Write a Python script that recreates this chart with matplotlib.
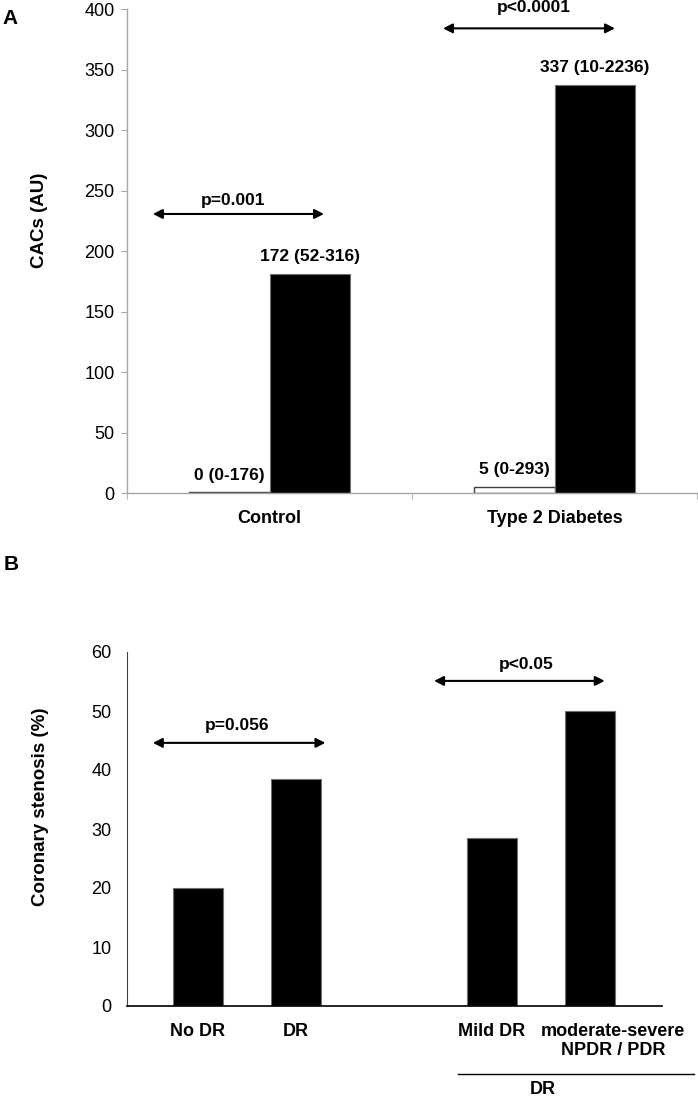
import numpy as np
import matplotlib
matplotlib.use('Agg')
import matplotlib.pyplot as plt
from matplotlib.transforms import ScaledTranslation

plt.rcParams['font.family'] = ['Liberation Sans', 'DejaVu Sans']

# ------------------ DATA -------------------------------------
# panel A : CACs
groups_a = ['Control', 'Type 2 Diabetes']
cacs_white = [0.5, 5]          # first series (open bars)
cacs_black = [181, 337]        # second series (filled bars)
labels_white = ['0 (0-176)', '5 (0-293)']
labels_black = ['172 (52-316)', '337 (10-2236)']
pvals_a = ['p=0.001', 'p<0.0001']
yticks_a = np.arange(0, 401, 50)

# panel B : coronary stenosis
groups_b = ['No DR', 'DR', 'Mild DR', 'moderate-severe\nNPDR / PDR']
pos_b = [0, 1, 3, 4]
stenosis = [20, 38.5, 28.5, 50]
pvals_b = ['p=0.056', 'p<0.05']
yticks_b = np.arange(0, 61, 10)

W, H = 698, 1100
fig = plt.figure(figsize=(W / 100, H / 100), dpi=100)

def frac(l, r, top, bot):
    return [l / W, 1 - bot / H, (r - l) / W, (bot - top) / H]

def arrow(ax, x0, x1, y):
    ax.annotate('', xy=(x1, y), xytext=(x0, y), annotation_clip=False,
                arrowprops=dict(arrowstyle='<|-|>,head_length=0.55,head_width=0.28',
                                color='black', lw=1.5, shrinkA=0, shrinkB=0))

# ------------------ PANEL A -------------------------------------
axA = fig.add_axes(frac(127, 697, 9, 493))
xa = np.arange(len(groups_a))
bw = 0.284
axA.bar(xa - bw / 2, cacs_white, bw, color='white', edgecolor='#404040', lw=1)
axA.bar(xa + bw / 2, cacs_black, bw, color='black', edgecolor='#707070', lw=0.8)
axA.set_xlim(-0.5, 1.5)
axA.set_ylim(0, 400)
axA.set_yticks(yticks_a)
axA.set_xticks(xa)
axA.set_xticklabels(groups_a, fontsize=13, fontweight='bold')
axA.set_xticks([-0.5, 0.5, 1.5], minor=True)
axA.tick_params(axis='x', which='major', length=0, pad=12)
axA.tick_params(axis='x', which='minor', length=4, color='#a6a6a6', direction='out')
axA.tick_params(axis='y', length=4, color='#a6a6a6', pad=5, labelsize=13)
for s in ['top', 'right']:
    axA.spines[s].set_visible(False)
for s in ['left', 'bottom']:
    axA.spines[s].set_color('#a6a6a6')
    axA.spines[s].set_linewidth(1)

for i in range(len(groups_a)):
    axA.annotate(labels_white[i], (xa[i] - bw / 2, cacs_white[i]), xytext=(0, 12.5),
                 textcoords='offset points', ha='center', va='center',
                 fontsize=12.5, fontweight='bold')
    axA.annotate(labels_black[i], (xa[i] + bw / 2, cacs_black[i]), xytext=(0, 12.5),
                 textcoords='offset points', ha='center', va='center',
                 fontsize=12.5, fontweight='bold')

arrow(axA, -0.409, 0.191, 230.6)
axA.text(-0.128, 242, pvals_a[0], ha='center', va='center', fontsize=12.5, fontweight='bold')
arrow(axA, 0.609, 1.212, 384)
axA.text(0.928, 401, pvals_a[1], ha='center', va='center', fontsize=12.5, fontweight='bold')

# ------------------ PANEL B -------------------------------------
axB = fig.add_axes(frac(127, 662, 652, 1006))
axB.bar(pos_b, stenosis, 0.51, color='black', edgecolor='#707070', lw=0.8)
axB.set_xlim(-0.724, 4.735)
axB.set_ylim(0, 60)
axB.set_yticks(yticks_b)
axB.set_xticks(pos_b)
axB.set_xticklabels(groups_b, fontsize=13, fontweight='bold')
axB.tick_params(axis='x', length=0, pad=12)
axB.tick_params(axis='y', length=0, pad=11, labelsize=13)
for s in ['top', 'right']:
    axB.spines[s].set_visible(False)
axB.spines['left'].set_color('#404040')
axB.spines['bottom'].set_color('black')
axB.spines['bottom'].set_linewidth(1.2)

# last label sits right of its bar
lbl = axB.get_xticklabels()[-1]
lbl.set_transform(lbl.get_transform() + ScaledTranslation(0.23, 0, fig.dpi_scale_trans))

arrow(axB, -0.46, 1.30, 44.6)
axB.text(0.40, 47.6, pvals_b[0], ha='center', va='center', fontsize=12.5, fontweight='bold')
arrow(axB, 2.41, 4.15, 55.1)
axB.text(3.35, 57.8, pvals_b[1], ha='center', va='center', fontsize=12.5, fontweight='bold')

# bracket under DR subgroups
axB.plot([2.65, 5.06], [-11.5, -11.5], color='black', lw=1, clip_on=False)
axB.text(3.52, -14.2, 'DR', ha='center', va='center', fontsize=13, fontweight='bold')

# ------------------ LABELS -------------------------------------
fig.text(40 / W, 1 - 220 / H, 'CACs (AU)', rotation=90, ha='center', va='center',
         fontsize=13.5, fontweight='bold')
fig.text(41 / W, 1 - 807 / H, 'Coronary stenosis (%)', rotation=90, ha='center', va='center',
         fontsize=13.5, fontweight='bold')
fig.text(10 / W, 1 - 19 / H, 'A', ha='center', va='center', fontsize=15, fontweight='bold')
fig.text(11 / W, 1 - 565 / H, 'B', ha='center', va='center', fontsize=15, fontweight='bold')

fig.savefig('out.png', dpi=100, facecolor='white')
